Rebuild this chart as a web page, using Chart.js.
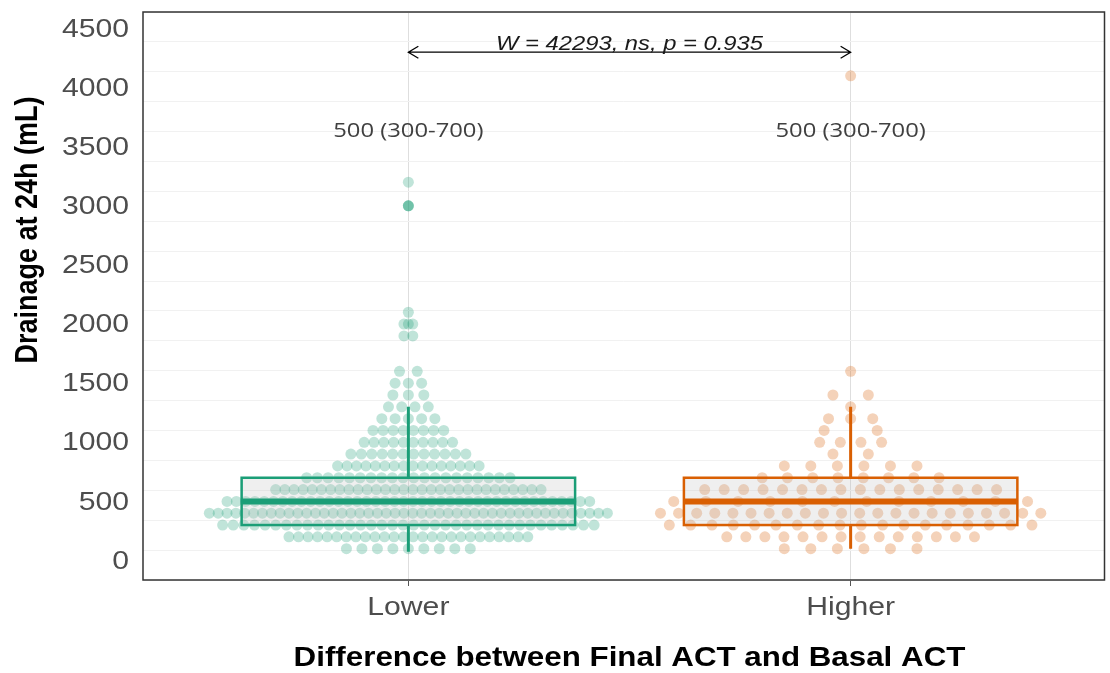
<!DOCTYPE html>
<html>
<head>
<meta charset="utf-8">
<script src="https://cdn.jsdelivr.net/npm/chart.js@4/dist/chart.umd.min.js"></script>
<style>
  html, body { margin: 0; padding: 0; background: #fff; }
  #wrap { width: 1110px; height: 673px; }
</style>
</head>
<body>
<div id="wrap"><canvas id="boxChart"></canvas></div>
<script>
const categories = ["Lower", "Higher"];
const colors = ["#1b9e77", "#d95f02"];
const pointColors = ["rgba(27,158,119,0.28)", "rgba(217,95,2,0.28)"];
const yTicks = [0, 500, 1000, 1500, 2000, 2500, 3000, 3500, 4000, 4500];

// box stats per group
const q1 = [300, 300];
const medians = [500, 500];
const q3 = [700, 700];
const whiskerLow = [75, 100];
const whiskerHigh = [1300, 1300];
const summaryLabels = ["500 (300-700)", "500 (300-700)"];

// observed values per group: level, count at that level, horizontal spread (half width, category units)
const lowerLevels = [3200, 3000, 2100, 2000, 1900, 1600, 1500, 1400, 1300, 1200, 1100, 1000, 900, 800, 700, 600, 500, 400, 300, 200, 100];
const lowerCounts = [1, 3, 1, 3, 2, 2, 3, 3, 4, 5, 8, 10, 12, 16, 20, 30, 40, 46, 36, 26, 9];
const lowerSpread = [0, 0, 0, 0.01, 0.01, 0.02, 0.03, 0.035, 0.045, 0.06, 0.08, 0.1, 0.13, 0.16, 0.23, 0.3, 0.41, 0.45, 0.42, 0.27, 0.14];

const higherLevels = [4100, 1600, 1400, 1300, 1200, 1100, 1000, 900, 800, 700, 600, 500, 400, 300, 200, 100];
const higherCounts = [1, 1, 2, 1, 3, 2, 4, 2, 6, 8, 16, 12, 22, 18, 14, 6];
const higherSpread = [0, 0, 0.04, 0.04, 0.05, 0.06, 0.07, 0.04, 0.15, 0.2, 0.33, 0.4, 0.43, 0.41, 0.28, 0.15];

const testLabel = "W = 42293, ns, p = 0.935";
const testY = 4300;
const summaryY = 3630;

// lay the points of each level side by side around the category centre
function swarm(center, levels, counts, spread) {
  const pts = [];
  levels.forEach((y, i) => {
    const n = counts[i];
    for (let k = 0; k < n; k++) {
      const off = n === 1 ? 0 : -spread[i] + (2 * spread[i] * k) / (n - 1);
      pts.push({ x: center + off, y: y });
    }
  });
  return pts;
}

const font = "'Liberation Sans', Arial, sans-serif";
const stretch = 1.16; // the reference text is a bit wide

function wideText(ctx, text, x, y, fnt, color, align, baseline) {
  ctx.save();
  ctx.font = fnt;
  ctx.fillStyle = color;
  ctx.textAlign = align || "center";
  ctx.textBaseline = baseline || "middle";
  ctx.translate(x, y);
  ctx.scale(stretch, 1);
  ctx.fillText(text, 0, 0);
  ctx.restore();
}

const boxPlugin = {
  id: "boxes",
  afterDatasetsDraw(chart) {
    const { ctx, scales: { x, y }, chartArea } = chart;
    ctx.save();
    categories.forEach((c, i) => {
      const cx = x.getPixelForValue(i + 1);
      const left = x.getPixelForValue(i + 1 - 0.377);
      const right = x.getPixelForValue(i + 1 + 0.377);
      const top = y.getPixelForValue(q3[i]);
      const bot = y.getPixelForValue(q1[i]);
      ctx.fillStyle = "rgba(190,190,190,0.25)";
      ctx.fillRect(left, top, right - left, bot - top);
      ctx.strokeStyle = colors[i];
      ctx.lineWidth = 3;
      ctx.beginPath();
      ctx.moveTo(cx, top); ctx.lineTo(cx, y.getPixelForValue(whiskerHigh[i]));
      ctx.moveTo(cx, bot); ctx.lineTo(cx, y.getPixelForValue(whiskerLow[i]));
      ctx.stroke();
      ctx.lineWidth = 2.5;
      ctx.strokeRect(left, top, right - left, bot - top);
      ctx.lineWidth = 6;
      ctx.beginPath();
      const my = y.getPixelForValue(medians[i]);
      ctx.moveTo(left, my); ctx.lineTo(right, my);
      ctx.stroke();

      wideText(ctx, summaryLabels[i], cx, y.getPixelForValue(summaryY), "20.5px 'Open Sans', sans-serif", "#404040");
      // category label
      wideText(ctx, c, cx, chartArea.bottom + 28, "26px " + font, "#4d4d4d");
    });

    // y tick labels
    yTicks.forEach((v) => {
      wideText(ctx, String(v), chartArea.left - 14, y.getPixelForValue(v) + 1, "26px " + font, "#4d4d4d", "right");
    });

    // comparison arrow
    const x1 = x.getPixelForValue(1), x2 = x.getPixelForValue(2);
    const ay = y.getPixelForValue(testY);
    ctx.strokeStyle = "#000";
    ctx.lineWidth = 1.3;
    ctx.beginPath();
    ctx.moveTo(x1, ay); ctx.lineTo(x2, ay);
    ctx.moveTo(x1 + 10, ay - 6); ctx.lineTo(x1, ay); ctx.lineTo(x1 + 10, ay + 6);
    ctx.moveTo(x2 - 10, ay - 6); ctx.lineTo(x2, ay); ctx.lineTo(x2 - 10, ay + 6);
    ctx.stroke();
    wideText(ctx, testLabel, (x1 + x2) / 2, ay - 2, "italic 20.5px " + font, "#1a1a1a", "center", "alphabetic");

    // panel border
    ctx.strokeStyle = "#333";
    ctx.lineWidth = 1.5;
    ctx.strokeRect(chartArea.left, chartArea.top, chartArea.right - chartArea.left, chartArea.bottom - chartArea.top);

    // axis titles
    wideText(ctx, "Difference between Final ACT and Basal ACT", (x1 + x2) / 2, 659, "bold 27px " + font, "#000");
    ctx.font = "bold 27px " + font;
    ctx.fillStyle = "#000";
    ctx.textAlign = "center";
    ctx.textBaseline = "middle";
    ctx.translate(28, 230);
    ctx.rotate(-Math.PI / 2);
    ctx.scale(1, stretch);
    ctx.fillText("Drainage at 24h (mL)", 0, 0);
    ctx.restore();
  }
};

new Chart(document.getElementById("boxChart"), {
  type: "scatter",
  data: {
    datasets: [
      {
        label: categories[0],
        data: swarm(1, lowerLevels, lowerCounts, lowerSpread),
        backgroundColor: pointColors[0],
        borderWidth: 0,
        pointRadius: 5.5,
      },
      {
        label: categories[1],
        data: swarm(2, higherLevels, higherCounts, higherSpread),
        backgroundColor: pointColors[1],
        borderWidth: 0,
        pointRadius: 5.5,
      },
    ],
  },
  options: {
    responsive: true,
    maintainAspectRatio: false,
    animation: false,
    layout: { padding: { top: 12, right: 2, left: 0, bottom: 0 } },
    plugins: { legend: { display: false }, tooltip: { enabled: false } },
    scales: {
      x: {
        type: "linear",
        min: 0.4,
        max: 2.574,
        afterBuildTicks: (scale) => { scale.ticks = [{ value: 1 }, { value: 2 }]; },
        afterFit: (scale) => { scale.height = 93; },
        grid: { color: "#dedede", tickColor: "#555", tickLength: 6 },
        border: { display: false },
        ticks: { color: "rgba(0,0,0,0)", font: { size: 6 }, callback: () => "" },
      },
      y: {
        min: -165,
        max: 4640,
        afterFit: (scale) => { scale.width = 143; },
        grid: {
          color: (c) => (c.tick && c.tick.value % 500 === 0 ? "#dedede" : "#f1f1f1"),
          tickColor: (c) => (c.tick && c.tick.value % 500 === 0 ? "#555" : "rgba(0,0,0,0)"),
          tickLength: 6,
        },
        border: { display: false },
        ticks: {
          stepSize: 250,
          includeBounds: false,
          autoSkip: false,
          color: "rgba(0,0,0,0)",
          font: { size: 6 },
          callback: () => "",
        },
      },
    },
  },
  plugins: [boxPlugin],
});
</script>
</body>
</html>
